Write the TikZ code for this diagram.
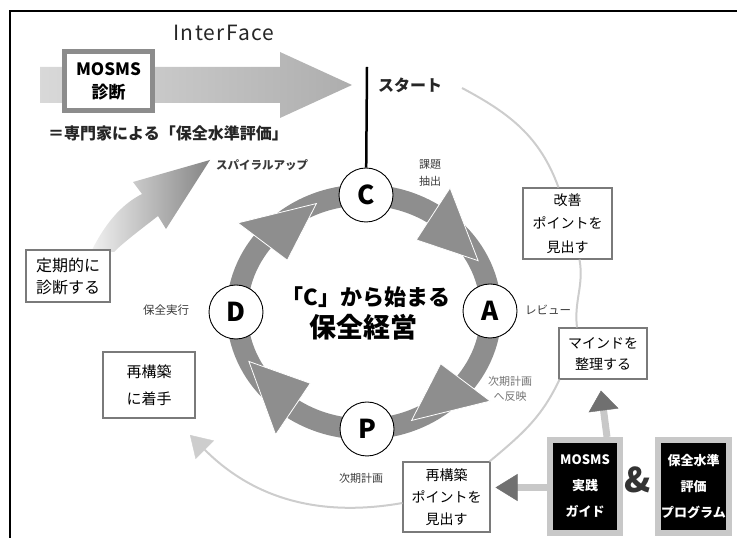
\documentclass[tikz,border=0pt]{standalone}
\usepackage{fontspec}
\setmainfont{Noto Sans CJK JP}
\usetikzlibrary{calc,arrows.meta}
\definecolor{ringgray}{HTML}{8E8E8E}
\definecolor{boxc}{HTML}{7A7A7A}
\definecolor{arcc}{HTML}{CDCDCD}
\definecolor{labelc}{HTML}{3A3A3A}
\definecolor{shaftc}{HTML}{C8C8C8}
\definecolor{headc}{HTML}{707070}
\definecolor{blkborder}{HTML}{C8C8C8}
\definecolor{ifborder}{HTML}{8C8C8C}
\begin{document}
\begin{tikzpicture}[x=1pt,y=1pt,
  lbl/.style={text=labelc, inner sep=0pt, align=center},
  wbox/.style={draw=boxc, line width=1.1pt, fill=white, align=center, inner sep=0pt},
  circ/.style={circle, draw=black, line width=0.9pt, fill=white, minimum size=54pt, inner sep=0pt, font=\fontsize{26}{26}\selectfont\bfseries},
  blk/.style={fill=black, draw=blkborder, line width=6pt, text=white, align=center, inner sep=0pt, minimum height=93pt, font=\fontsize{13}{26}\selectfont\bfseries},
  arcline/.style={draw=arcc, line width=2pt},
  garrow/.style={draw=shaftc, line width=7pt}
]
\useasboundingbox (0,0) rectangle (737,538);
% frame
\draw[line width=2.2pt] (10,0) -- (10,527) -- (737,527);

% InterFace arrow
\node[inner sep=0pt, text=black!85, font=\fontsize{21}{21}\selectfont\addfontfeatures{LetterSpace=6}] (iftitle) at (224,505) {InterFace};
\path[left color=black!15, middle color=black!40, right color=black!32]
  (40,471) -- (280,471) -- (280,486) -- (352,453) -- (280,420) -- (280,435) -- (40,435) -- cycle;
\node[draw=ifborder, line width=5pt, fill=white, minimum width=88pt, minimum height=59pt, inner sep=0pt, align=center,
  font=\fontsize{17}{23}\selectfont\bfseries] (diag) at (108.5,457) {MOSMS\\診断};
\node[inner sep=0pt, font=\fontsize{16}{16}\selectfont\bfseries, text=black!85] (expert) at (168,405) {＝専門家による「保全水準評価」};

% start
\node[inner sep=0pt, font=\fontsize{16}{16}\selectfont\bfseries, text=black!85] (start) at (410,453) {スタート};
\coordinate (startTop) at (367,471);
\coordinate (arcS) at (462,450);
\coordinate (arcTip) at (190,103);

% spiral-up arrow
\path[left color=black!6, right color=black!48]
  (92,288) .. controls (104,312) and (120,333) .. (142,344) -- (133,356) -- (210,378) -- (166,309) -- (158,322)
  .. controls (140,308) and (124,296) .. (114,286) -- cycle;

% boxes
\node[wbox, minimum width=84pt, minimum height=52pt, font=\fontsize{16}{22}\selectfont] (teiki) at (68,262) {定期的に\\診断する};
\node[wbox, minimum width=92pt, minimum height=66pt, font=\fontsize{15}{27}\selectfont] (saichaku) at (149,153) {再構築\\に着手};
\node[wbox, minimum width=89pt, minimum height=71pt, font=\fontsize{14}{23.5}\selectfont] (kaizen) at (567.5,314.5) {改善\\ポイントを\\見出す};
\node[wbox, minimum width=88pt, minimum height=51pt, font=\fontsize{14}{21}\selectfont] (mind) at (603,184.5) {マインドを\\整理する};
\node[wbox, minimum width=87pt, minimum height=70pt, font=\fontsize{14}{22}\selectfont] (saipoint) at (446.5,41) {再構築\\ポイントを\\見出す};

% light arc
\draw[arcline] (arcS) to[out=-28,in=110] ([xshift=-9pt]kaizen.north);
\draw[arcline] ([xshift=12pt]kaizen.south) to[out=-80,in=97] ([xshift=-26pt]mind.north);
\draw[arcline] ([xshift=1pt]mind.south west) to[out=-115,in=40] ([xshift=-1pt]saipoint.north east);
\draw[arcline, -{Triangle[length=21pt,width=26pt,line width=0.4pt,color=arcc]}] ([yshift=-6pt]saipoint.west) to[out=190,in=-45] (arcTip);

% ring
\coordinate (rc) at (364,226);
\draw[ringgray, line width=21pt] (rc) ellipse [x radius=127pt, y radius=117pt];
\foreach \a in {143,57,-37,-124}{
  \filldraw[fill=ringgray, draw=white, line width=0.8pt]
   ($(rc)+({96*cos(\a)},{86*sin(\a)})$) -- ($(rc)+({158*cos(\a)},{148*sin(\a)})$) -- ($(rc)+({127*cos(\a-31)},{117*sin(\a-31)})$) -- cycle;
}
\node[circ] (C) at (366,343) {C};
\node[circ] (A) at (490,227) {A};
\node[circ] (P) at (367,109) {P};
\node[circ] (D) at (236,226) {D};
\draw[line width=2.5pt] (startTop) -- (C);

\node[inner sep=0pt, font=\fontsize{22}{22}\selectfont\bfseries] (title1) at (366,241) {「C」から始まる};
\node[inner sep=0pt, font=\fontsize{27}{27}\selectfont\bfseries] (title2) at (363,211) {保全経営};

% labels
\node[lbl, font=\fontsize{11.5}{11.5}\selectfont\bfseries] (spiral) at (262,373) {スパイラルアップ};
\node[lbl, font=\fontsize{11}{17}\selectfont] (kadai) at (430,364.5) {課題\\抽出};
\node[lbl, font=\fontsize{11.5}{11.5}\selectfont] (hozen) at (166,228) {保全実行};
\node[lbl, font=\fontsize{11.5}{11.5}\selectfont] (review) at (548,228) {レビュー};
\node[lbl, text=black!55, font=\fontsize{11}{15}\selectfont] (hanei) at (510,149) {次期計画\\へ反映};
\node[lbl, font=\fontsize{11}{11}\selectfont] (jiki) at (361,60) {次期計画};

% black boxes
\node[blk, minimum width=70pt] (mosms) at (585,51.5) {MOSMS\\実践\\ガイド};
\node[blk, minimum width=71pt] (prog) at (693.5,51.5) {保全水準\\評価\\プログラム};
\node[inner sep=0pt, text=black!80, font=\fontsize{34}{34}\selectfont\bfseries] (amp) at (638,58) {\&};

% gray arrows
\draw[garrow, -{Triangle[length=20pt,width=30pt,line width=0.4pt,color=headc]}] ([xshift=22pt]mosms.north) -- ($(mind.south)+(-2,-11)$);
\draw[garrow, -{Triangle[length=22pt,width=27pt,line width=0.4pt,color=headc]}] ([yshift=-1pt]mosms.west) -- ($([yshift=-1pt]mosms.west -| saipoint.east)+(5,0)$);
\end{tikzpicture}
\end{document}
